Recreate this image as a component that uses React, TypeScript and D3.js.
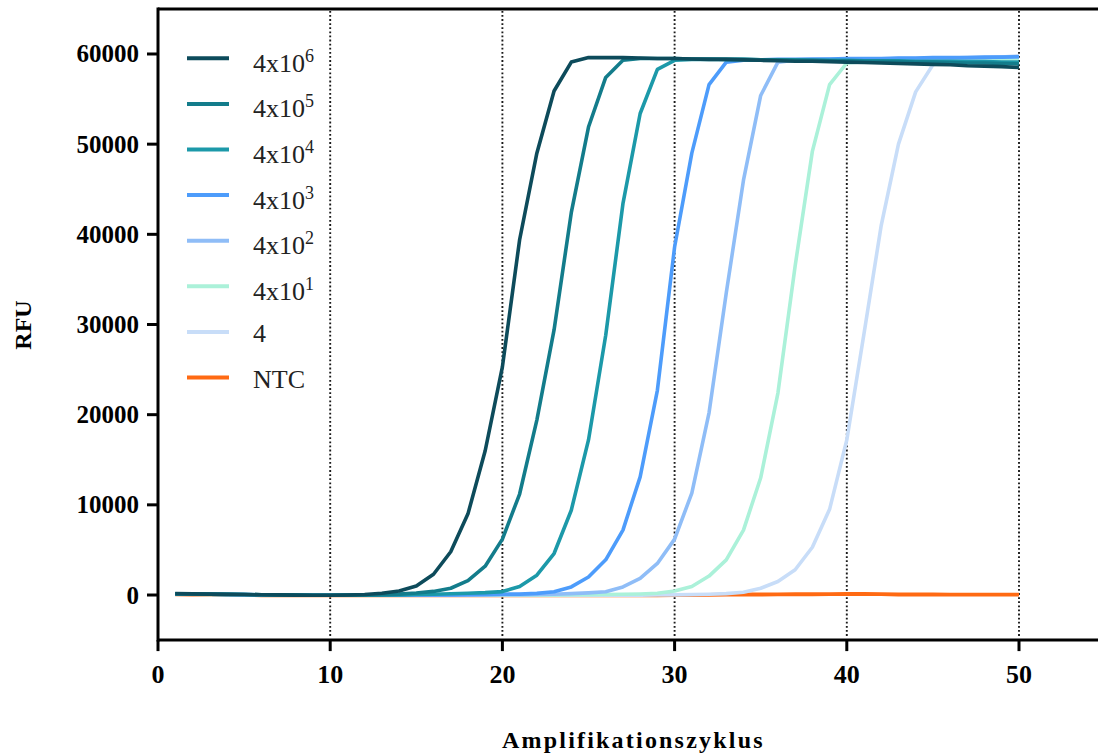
import React from "react";
import * as d3 from "d3";

// Amplification cycles 1..50
const cycles: number[] = d3.range(1, 51);

// RFU per cycle for each template dilution
const rfu4e6: number[] = [
  150, 130, 100, 80, 50, 30, 10, -10, -20, -20,
  0, 60, 200, 450, 1000, 2300, 4800, 9000, 16000, 25300,
  39400, 49000, 55900, 59100, 59600, 59600, 59600, 59550, 59500, 59500,
  59450, 59400, 59400, 59350, 59300, 59250, 59200, 59200, 59150, 59100,
  59050, 59000, 58950, 58900, 58850, 58800, 58700, 58650, 58600, 58500,
];
const rfu4e5: number[] = [
  140, 120, 100, 70, 50, 30, 10, -10, -20, -20,
  -10, 0, 40, 100, 220, 400, 750, 1600, 3200, 6200,
  11200, 19400, 29400, 42400, 51900, 57400, 59300, 59500, 59500, 59500,
  59450, 59450, 59400, 59400, 59350, 59350, 59300, 59300, 59250, 59250,
  59200, 59200, 59150, 59100, 59100, 59050, 59000, 59000, 58950, 58900,
];
const rfu4e4: number[] = [
  130, 110, 90, 70, 50, 30, 10, -10, -20, -20,
  -20, -10, 0, 20, 50, 90, 140, 200, 260, 380,
  950, 2200, 4600, 9400, 17200, 28800, 43400, 53400, 58300, 59300,
  59400, 59400, 59400, 59400, 59350, 59350, 59350, 59300, 59300, 59300,
  59250, 59250, 59250, 59200, 59200, 59200, 59150, 59150, 59100, 59100,
];
const rfu4e3: number[] = [
  120, 100, 80, 60, 40, 20, 0, -10, -20, -20,
  -20, -20, -20, -10, 0, 10, 20, 40, 60, 90,
  100, 180, 370, 900, 2000, 3900, 7200, 13100, 22700, 38600,
  49000, 56600, 59100, 59300, 59350, 59400, 59400, 59450, 59450, 59500,
  59500, 59500, 59550, 59550, 59600, 59600, 59600, 59650, 59650, 59700,
];
const rfu4e2: number[] = [
  120, 100, 80, 60, 40, 20, 0, -10, -20, -20,
  -20, -20, -20, -20, -20, -10, 0, 10, 20, 30,
  40, 60, 90, 150, 240, 370, 900, 1850, 3500, 6200,
  11300, 20200, 33500, 46000, 55400, 59100, 59300, 59350, 59400, 59400,
  59450, 59450, 59500, 59500, 59550, 59550, 59600, 59600, 59650, 59700,
];
const rfu4e1: number[] = [
  110, 90, 70, 50, 30, 10, 0, -10, -20, -20,
  -20, -20, -20, -20, -20, -20, -20, -10, -10, 0,
  0, 10, 20, 30, 40, 60, 80, 120, 200, 450,
  950, 2100, 3900, 7200, 13000, 22400, 36500, 49200, 56600, 59000,
  59150, 59200, 59250, 59300, 59300, 59350, 59400, 59400, 59450, 59500,
];
const rfu4: number[] = [
  110, 90, 70, 50, 30, 10, 0, -10, -20, -20,
  -20, -20, -20, -20, -20, -20, -20, -20, -20, -20,
  -20, -20, -20, -20, -20, -20, -10, -10, 0, 10,
  40, 80, 150, 300, 750, 1500, 2800, 5300, 9500, 17200,
  29000, 41000, 50000, 55800, 58800, 59300, 59450, 59550, 59650, 59800,
];
const rfuNtc: number[] = [
  80, 60, 40, 20, 0, -20, -30, -40, -40, -40,
  -40, -40, -40, -40, -40, -40, -40, -40, -40, -40,
  -40, -40, -40, -40, -40, -30, -30, -20, -20, -10,
  0, 20, 40, 50, 60, 70, 80, 90, 100, 110,
  120, 100, 60, 50, 50, 40, 40, 40, 40, 40,
];

// Legend labels: base text and superscript exponent
const seriesBase: string[] = ["4x10", "4x10", "4x10", "4x10", "4x10", "4x10", "4", "NTC"];
const seriesExp: string[] = ["6", "5", "4", "3", "2", "1", "", ""];
const seriesValues: number[][] = [rfu4e6, rfu4e5, rfu4e4, rfu4e3, rfu4e2, rfu4e1, rfu4, rfuNtc];
const seriesColors: string[] = [
  "#0d4b5b", "#137c8b", "#1c99a9", "#4d9cfb", "#8fbdf7", "#abf1d9", "#c8ddf8", "#ff6a13",
];

const xTicks: number[] = [0, 10, 20, 30, 40, 50];
const yTicks: number[] = [0, 10000, 20000, 30000, 40000, 50000, 60000];
const gridCycles: number[] = [10, 20, 30, 40, 50];

const W = 1098;
const H = 756;
const LEFT = 158;
const serif = "'Liberation Serif', 'Times New Roman', serif";

export default function App() {
  const x = d3.scaleLinear().domain([0, 55]).range([LEFT, LEFT + 55 * 17.22]);
  const y = d3.scaleLinear().domain([-5000, 65000]).range([640.1, 8.9]);
  const line = d3
    .line<number>()
    .x((_, i) => x(cycles[i]))
    .y((v) => y(v));

  const yTop = y(65000);
  const yBot = y(-5000);
  const xRight = x(55);

  // draw order: NTC underneath, most concentrated sample on top
  const drawOrder = d3.range(seriesValues.length).reverse();

  const legendY0 = 58.3;
  const legendStep = 45.6;

  return (
    <svg
      width={W}
      height={H}
      style={{ position: "absolute", left: 0, top: 0, background: "#fff" }}
    >
      {/* dotted vertical grid */}
      {gridCycles.map((c) => (
        <line
          key={"g" + c}
          x1={x(c)}
          x2={x(c)}
          y1={yTop + 2}
          y2={yBot - 2}
          stroke="#1a1a1a"
          strokeWidth={1.9}
          strokeDasharray="1.8 2.3"
        />
      ))}

      {/* amplification curves */}
      {drawOrder.map((si) => (
        <path
          key={"s" + si}
          d={line(seriesValues[si]) || ""}
          fill="none"
          stroke={seriesColors[si]}
          strokeWidth={si === 7 ? 3.9 : 3.6}
          strokeLinejoin="round"
        />
      ))}

      {/* frame */}
      <line x1={LEFT} x2={xRight} y1={yTop} y2={yTop} stroke="#000" strokeWidth={3} />
      <line x1={LEFT} x2={xRight} y1={yBot} y2={yBot} stroke="#000" strokeWidth={3} />
      <line x1={LEFT} x2={LEFT} y1={yTop - 1.5} y2={yBot + 1.5} stroke="#000" strokeWidth={3} />

      {/* x ticks */}
      {xTicks.map((t) => (
        <g key={"xt" + t}>
          <line x1={x(t)} x2={x(t)} y1={yBot} y2={yBot + 11} stroke="#000" strokeWidth={3} />
          <text
            x={x(t)}
            y={683}
            textAnchor="middle"
            fontFamily={serif}
            fontWeight="bold"
            fontSize={26}
            fill="#000"
          >
            {t}
          </text>
        </g>
      ))}

      {/* y ticks */}
      {yTicks.map((t) => (
        <g key={"yt" + t}>
          <line x1={LEFT - 11} x2={LEFT} y1={y(t)} y2={y(t)} stroke="#000" strokeWidth={3} />
          <text
            x={139}
            y={y(t) + 8.5}
            textAnchor="end"
            fontFamily={serif}
            fontWeight="bold"
            fontSize={25}
            fill="#000"
          >
            {t}
          </text>
        </g>
      ))}

      {/* axis titles */}
      <text
        x={502}
        y={748}
        fontFamily={serif}
        fontWeight="bold"
        fontSize={24}
        letterSpacing={2.2}
        fill="#000"
      >
        Amplifikationszyklus
      </text>
      <text
        transform={`translate(31,325) rotate(-90)`}
        textAnchor="middle"
        fontFamily={serif}
        fontWeight="bold"
        fontSize={24}
        fill="#000"
      >
        RFU
      </text>

      {/* legend */}
      {seriesBase.map((b, i) => {
        const ly = legendY0 + i * legendStep;
        const hasExp = seriesExp[i] !== "";
        return (
          <g key={"l" + i}>
            <line
              x1={187}
              x2={229}
              y1={ly}
              y2={ly}
              stroke={seriesColors[i]}
              strokeWidth={4}
            />
            <text
              x={253}
              y={ly + (hasExp ? 13.4 : 10.5)}
              fontFamily={serif}
              fontSize={26}
              fill="#222"
            >
              <tspan>{b}</tspan>
              {hasExp && (
                <tspan dy={-10} fontSize={18}>
                  {seriesExp[i]}
                </tspan>
              )}
            </text>
          </g>
        );
      })}
    </svg>
  );
}
